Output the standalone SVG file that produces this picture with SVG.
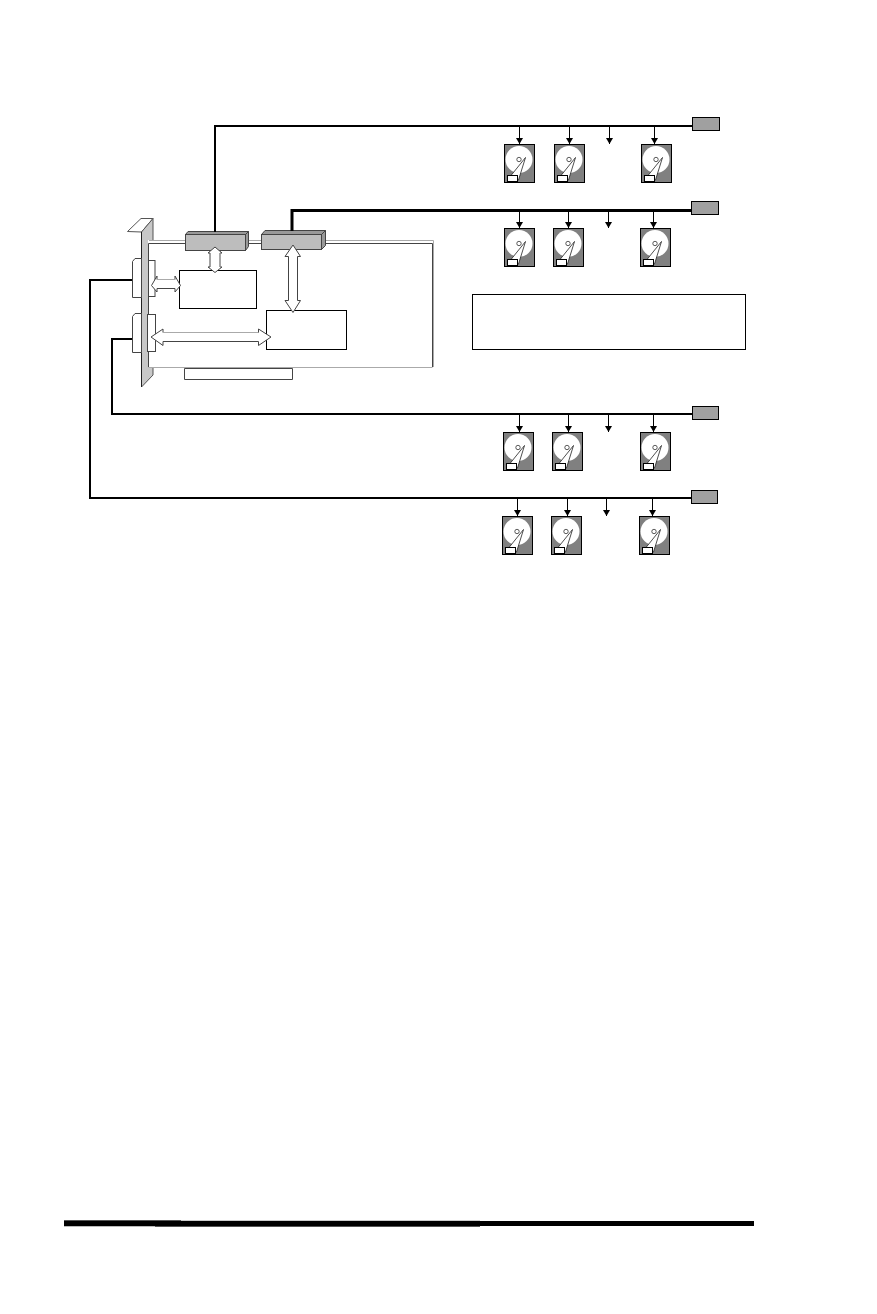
<svg xmlns="http://www.w3.org/2000/svg" xmlns:xlink="http://www.w3.org/1999/xlink" width="877" height="1314" viewBox="0 0 877 1314">
<style>
.wire{fill:none;stroke:#000;stroke-width:2}
.wire3{fill:none;stroke:#000;stroke-width:3}
.tick{stroke:#000;stroke-width:1;fill:none}
.term{fill:#a0a0a0;stroke:#000;stroke-width:1}
.box{fill:#fff;stroke:#000;stroke-width:1}
.edge{fill:#fff;stroke:#444;stroke-width:1}
.arrow{fill:#fff;stroke:#444;stroke-width:1;stroke-linejoin:miter}
.lite{stroke:#aaa;stroke-width:1;fill:none}
.chip{fill:#bdbdbd;stroke:#444;stroke-width:1}
.chipd{fill:#999;stroke:#444;stroke-width:1}
</style>
<defs>
<marker id="ah" markerUnits="userSpaceOnUse" markerWidth="7" markerHeight="7" refX="6" refY="3.5" orient="auto"><path d="M0 0L6 3.5L0 7Z" fill="#000"/></marker>
<g id="drive">
<rect x="0.5" y="0.5" width="30" height="38" fill="#808080" stroke="#000" stroke-width="1"/>
<circle cx="15" cy="15.500" r="13.500" fill="#fff"/>
<circle cx="15" cy="15.500" r="2.200" fill="#fff" stroke="#333" stroke-width="0.8"/>
<path d="M7 31.500L21.500 13.500L14.500 36Z" fill="#fff" stroke="#222" stroke-width="0.8"/>
<rect x="3.500" y="31.500" width="10" height="6" fill="#fff" stroke="#000" stroke-width="1"/>
</g>
</defs>

<g id="bracket">
<path d="M127.500 231.500L141 218.500H153L141.500 232Z" fill="#fff" stroke="#555" stroke-width="1"/>
<path d="M141.500 232L153 218.500V375L141.500 387Z" fill="#c8c8c8" stroke="#555" stroke-width="1"/>
<path d="M141.500 232V387" stroke="#222" stroke-width="1"/>
</g>

<g id="card">
<path d="M148.500 367V243.500H432.500V367Z" fill="#fff" stroke="none"/>
<rect x="148" y="240" width="285" height="4" fill="#fff"/>
<path class="lite" d="M149 240.500H433.500V367"/>
<path d="M148.500 367V243.500H432.500V367" fill="none" stroke="#444" stroke-width="1"/>
<path class="lite" d="M148.500 367.500H432.500"/>
</g>
<g id="slot"><path d="M184.500 368.500V379.500H292.500V368.500Z" class="edge"/></g>

<g id="connector-right-1">
<rect x="148.500" y="260.500" width="6.500" height="36" class="edge"/>
</g>
<g id="connector-right-2">
<rect x="147.500" y="314.500" width="8" height="37" class="edge"/>
</g>
<g id="connector-left-1">
<path d="M132.500 297.500V261.500L135 258.500H141.500V297.500Z" class="edge"/>
</g>
<g id="connector-left-2">
<path d="M132.500 352.500V316.500L135 313.500H141.500V352.500Z" class="edge"/>
</g>

<g id="chip-1">
<path d="M185.500 234.500L188 231.500H248.500L245.500 234.500Z" class="chipd"/>
<path d="M245.500 234.500L248.500 231.500V246.500L245.500 250.500Z" class="chipd"/>
<rect x="185.500" y="234.500" width="60" height="16" class="chip"/>
</g>
<g id="chip-2">
<path d="M261.500 234.500L265 230.500H325.500L321.500 234.500Z" class="chipd"/>
<path d="M321.500 234.500L325.500 230.500V245.500L321.500 249.500Z" class="chipd"/>
<rect x="261.500" y="234.500" width="60" height="15" class="chip"/>
</g>

<g id="box-1"><rect x="179.500" y="270.500" width="77" height="38" class="box"/></g>
<g id="box-2"><rect x="266.500" y="310.500" width="80" height="39" class="box"/></g>

<g id="arrows">
<path class="arrow" d="M215 247L222 253H220V267H222L215 272.500L208 267H210V253H208Z"/>
<path class="lite" d="M220 253V267"/>
<path class="arrow" d="M293 245L300.500 256.500H297.500V300.500H300.500L293 312.500L285 300.500H288.500V256.500H285Z"/>
<path class="arrow" d="M151.500 285.500L157 276V279.500H175V276L180.500 285.500L175 292V288.500H157V292Z"/>
<path class="lite" d="M157 279.500H175"/>
<path class="arrow" d="M151 337L163 329V332.500H258.500V329L271 337L258.500 345.500V341.500H163V345.500Z"/>
<path class="lite" d="M163 332.500H258.500"/>
</g>

<g id="legend"><rect x="472.500" y="294.500" width="273" height="55" class="box"/></g>

<g id="connectors">
<path class="wire" d="M215 232V126H692"/>
<path class="wire3" d="M292 231V210.500H691"/>
<path class="wire" d="M132 339H112V414H692"/>
<path class="wire" d="M132 280H90V498H691"/>
<g marker-end="url(#ah)">
<path class="tick" d="M519.500 127V144"/><path class="tick" d="M569.500 127V144"/><path class="tick" d="M609.500 127V144"/><path class="tick" d="M654.500 127V144"/>
<path class="tick" d="M519.500 211V228"/><path class="tick" d="M568.500 211V228"/><path class="tick" d="M608.500 211V228"/><path class="tick" d="M653.500 211V228"/>
<path class="tick" d="M519.500 415V432"/><path class="tick" d="M568.500 415V432"/><path class="tick" d="M608.500 415V432"/><path class="tick" d="M653.500 415V432"/>
<path class="tick" d="M517.500 499V516"/><path class="tick" d="M567.500 499V516"/><path class="tick" d="M606.500 499V516"/><path class="tick" d="M652.500 499V516"/>
</g>
</g>

<g id="terminators">
<rect id="term-1" x="692.500" y="117.500" width="27" height="13" class="term"/>
<rect id="term-2" x="691.500" y="201.500" width="27" height="13" class="term"/>
<rect id="term-3" x="692.500" y="406.500" width="26" height="13" class="term"/>
<rect id="term-4" x="691.500" y="490.500" width="26" height="13" class="term"/>
</g>

<g id="drive-1-1"><use xlink:href="#drive" x="504" y="144"/></g>
<g id="drive-1-2"><use xlink:href="#drive" x="554" y="144"/></g>
<g id="drive-1-3"><use xlink:href="#drive" x="641" y="144"/></g>
<g id="drive-2-1"><use xlink:href="#drive" x="504" y="228"/></g>
<g id="drive-2-2"><use xlink:href="#drive" x="553" y="228"/></g>
<g id="drive-2-3"><use xlink:href="#drive" x="640" y="228"/></g>
<g id="drive-3-1"><use xlink:href="#drive" x="503" y="432"/></g>
<g id="drive-3-2"><use xlink:href="#drive" x="552" y="432"/></g>
<g id="drive-3-3"><use xlink:href="#drive" x="640" y="432"/></g>
<g id="drive-4-1"><use xlink:href="#drive" x="502" y="516"/></g>
<g id="drive-4-2"><use xlink:href="#drive" x="551" y="516"/></g>
<g id="drive-4-3"><use xlink:href="#drive" x="639" y="516"/></g>

<g id="footer-rule">
<rect x="64" y="1221" width="690" height="5" fill="#000"/>
<rect x="64" y="1220" width="117" height="1" fill="#555"/>
<rect x="181" y="1220" width="299" height="1" fill="#ccc"/>
<rect x="64" y="1226" width="91" height="1" fill="#bbb"/>
<rect x="155" y="1226" width="325" height="1" fill="#555"/>
</g>
</svg>
